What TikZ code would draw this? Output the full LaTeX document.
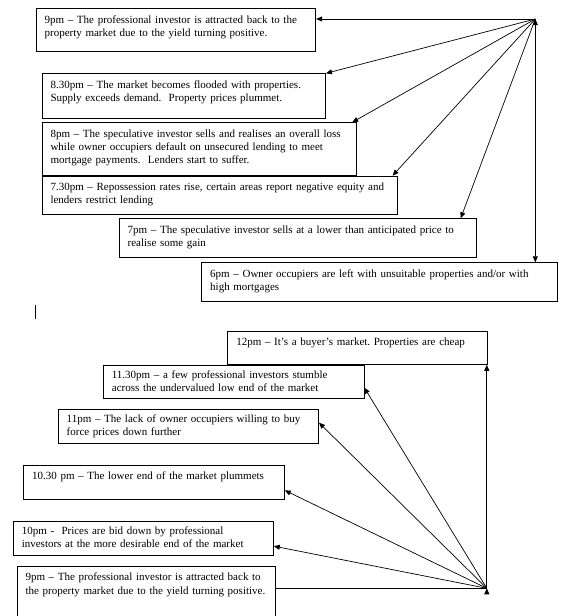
\documentclass[tikz,border=0pt]{standalone}
\usepackage{fontspec}
\setmainfont{Liberation Serif}
\usetikzlibrary{arrows.meta}

\tikzset{
  event/.style={draw, line width=0.8pt, anchor=north west, align=left, inner xsep=8.5pt, inner ysep=5.5pt, text height=9pt, font=\fontsize{11}{13.2}\selectfont\frenchspacing},
  fan/.style={line width=0.7pt, -{Triangle[length=6pt, width=5pt]}}
}

\begin{document}
\begin{tikzpicture}[x=1pt, y=-1pt]
            \clip (0, 0) rectangle (574, 616);
            \fill[white] (0, 0) rectangle (574, 616);

            % the evening: prices fall
            \coordinate (A0) at (535.3, 19);
            \node (A1)[event, text width=262.6pt, text depth=22.7pt] at (35.7, 8.3) {9pm -- The professional investor is attracted back to the \\ property market due to the yield turning positive.};
            \node (A2)[event, text width=266.6pt, text depth=25pt] at (41.6, 73.3) {8.30pm -- The market becomes flooded with properties. \\ Supply exceeds demand.\ \ Property prices plummet.};
            \node (A3)[event, text width=297.5pt, text depth=32.7pt] at (41.6, 122.3) {8pm -- The speculative investor sells and realises an overall loss \\ while owner occupiers default on unsecured lending to meet \\ mortgage payments.\ \ Lenders start to suffer.};
            \node (A4)[event, text width=338.8pt, text depth=18.3pt] at (41.6, 175.7) {7.30pm -- Repossession rates rise, certain areas report negative equity and \\ lenders restrict lending};
            \node (A5)[event, text width=339.9pt, text depth=18.7pt] at (118.8, 218.3) {7pm -- The speculative investor sells at a lower than anticipated price to \\ realise some gain};
            \node (A6)[event, text width=339.1pt, text depth=18.7pt] at (201.3, 262.3) {6pm -- Owner occupiers are left with unsuitable properties and/or with \\ high mortgages};
            \draw[fan] (A0) edge (A0 -| A1.east)  (A0) edge (A2.north east)
                (A0) edge ([xshift=-4.7pt]A3.north east)  (A0) edge ([xshift=-5.6pt]A4.north east)
                (A0) edge ([xshift=-15.8pt]A5.north east)  (A0) edge (A0 |- A6.north);

            \draw[line width=0.6pt] (35.7, 305) -- (35.7, 319);

            % the night: the market bottoms out
            \coordinate (B0) at (486.8, 588.3);
            \node (B1)[event, text width=242.4pt, text depth=13.3pt] at (227.4, 330.7) {12pm -- It’s a buyer’s market. Properties are cheap};
            \node (B2)[event, text width=243.5pt, text height=7.5pt, text depth=14.8pt] at (103, 365) {11.30pm -- a few professional investors stumble \\ across the undervalued low end of the market};
            \node (B3)[event, text width=243.4pt, text height=7.5pt, text depth=15.5pt] at (57.8, 409.3) {11pm -- The lack of owner occupiers willing to buy \\ force prices down further};
            \node (B4)[event, text width=243.8pt, text depth=14.3pt] at (23.2, 465) {10.30 pm -- The lower end of the market plummets};
            \node (B5)[event, text width=243.1pt, text height=7.5pt, text depth=15.8pt] at (12.9, 521) {10pm -\ \ Prices are bid down by professional \\ investors at the more desirable end of the market};
            \node (B6)[event, text width=241.6pt, text depth=45pt] at (16.6, 566) {9pm -- The professional investor is attracted back to \\ the property market due to the yield turning positive.};
            \draw[fan] (B0) edge (B0 |- B1.south)  (B0) edge ([yshift=-5.6pt]B2.east)
                (B0) edge ([yshift=4pt]B3.east)  (B0) edge ([yshift=-7.8pt]B4.east)
                (B0) edge ([yshift=-7.6pt]B5.east);
            \draw[line width=0.7pt] (B0) -- (B0 -| B6.east);
    \end{tikzpicture}
\end{document}
